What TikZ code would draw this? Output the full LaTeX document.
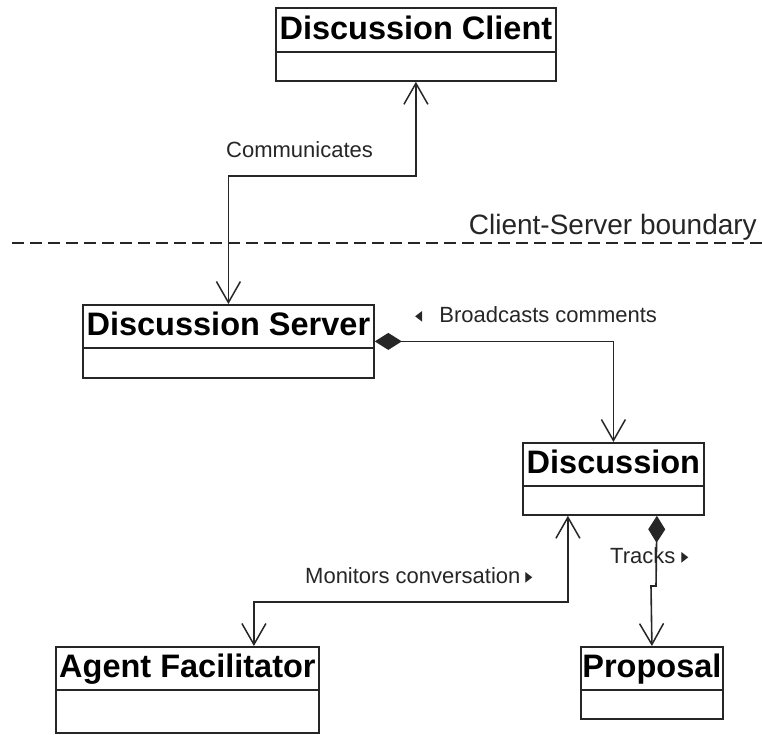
\documentclass[tikz,border=0pt]{standalone}
\usepackage{fontspec}
\usepackage{graphicx}
\setmainfont{Liberation Sans}
\newfontfamily\symfont{DejaVu Sans}
\newcommand{\mytri}[1]{\scalebox{0.75}[1.15]{\symfont\fontsize{19}{19}\selectfont #1}}
\usetikzlibrary{arrows.meta}
\begin{document}
\begin{tikzpicture}[x=1pt,y=-1pt,
  classbox/.style={draw=black!85, line width=1.8pt, anchor=north west, inner sep=0pt, fill=white},
  divider/.style={draw=black!85, line width=1.8pt},
  classtitle/.style={font=\bfseries\fontsize{32.5}{33}\selectfont, anchor=base, inner sep=0pt},
  lbl/.style={font=\fontsize{22}{26}\selectfont, text=black!85, inner sep=0pt},
  conn/.style={draw=black!85, line width=1.6pt},
  barb/.tip={Straight Barb[length=21pt,width=24pt,line width=1.5pt]},
  dia/.tip={Diamond[length=27pt,width=17pt]}
]
\useasboundingbox (0,0) rectangle (762,734);
\fill[white] (0,0) rectangle (762,734);

% classes
\node[classbox, minimum width=280pt, minimum height=73pt] (client) at (275,7) {};
\draw[divider] ([yshift=-45pt]client.north west) -- ([yshift=-45pt]client.north east);
\node[classtitle] at ([yshift=-32pt]client.north) {Discussion Client};

\node[classbox, minimum width=291pt, minimum height=73pt] (server) at (82,304) {};
\draw[divider] ([yshift=-44pt]server.north west) -- ([yshift=-44pt]server.north east);
\node[classtitle] at ([yshift=-31pt]server.north) {Discussion Server};

\node[classbox, minimum width=181pt, minimum height=72pt] (disc) at (522,442) {};
\draw[divider] ([yshift=-44pt]disc.north west) -- ([yshift=-44pt]disc.north east);
\node[classtitle] at ([yshift=-31pt]disc.north) {Discussion};

\node[classbox, minimum width=263pt, minimum height=86pt] (agent) at (55,646) {};
\draw[divider] ([yshift=-44pt]agent.north west) -- ([yshift=-44pt]agent.north east);
\node[classtitle] at ([yshift=-31pt]agent.north) {Agent Facilitator};

\node[classbox, minimum width=142pt, minimum height=72pt] (prop) at (580,646) {};
\draw[divider] ([yshift=-44pt]prop.north west) -- ([yshift=-44pt]prop.north east);
\node[classtitle] at ([yshift=-31pt]prop.north) {Proposal};

% boundary
\coordinate (bl) at (12,243);
\coordinate (br) at (762,243);
\draw[draw=black!85, line width=2pt, dash pattern=on 12pt off 6pt] (bl) -- (br);
\node[lbl, font=\fontsize{28}{30}\selectfont, anchor=base east] (bnd) at (757,234) {Client-Server boundary};

% connectors
\coordinate (commbend) at (300,176);
\draw[conn, barb-barb] (server.north) |- (commbend) -| (client.south);
\node[lbl, anchor=base west] (comm) at (226,157) {Communicates};

\draw[conn, dia-barb] (server.east) -| (disc.north);
\node[lbl, anchor=base west] (bc) at (415,322) {\mytri{◂}\hspace{17pt}Broadcasts comments};

\coordinate (monbend) at (400,602);
\draw[conn, barb-barb] ([xshift=-45.5pt]disc.south) |- (monbend) -| ([xshift=66.5pt]agent.north);
\node[lbl, anchor=base west] (mon) at (305,583) {Monitors conversation\hspace{5pt}\mytri{▸}};

\coordinate (trk1) at (656,586);
\coordinate (trk2) at (651,586);
\draw[conn, dia-barb] ([xshift=43.5pt]disc.south) -- (trk1) -- (trk2) -- (prop.north);
\node[lbl, anchor=base west] (trk) at (610,563) {Tracks\hspace{6pt}\mytri{▸}};
\end{tikzpicture}
\end{document}
